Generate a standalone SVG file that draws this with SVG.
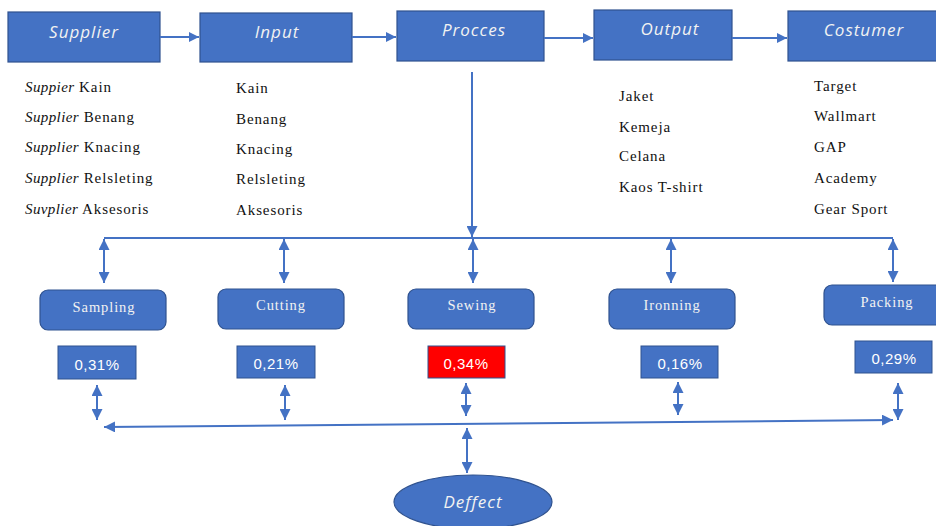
<svg xmlns="http://www.w3.org/2000/svg" width="936" height="526" viewBox="0 0 936 526">
  <defs>
    <marker id="head" viewBox="0 0 10 10" refX="10" refY="5" markerWidth="10" markerHeight="10" markerUnits="userSpaceOnUse" orient="auto-start-reverse">
      <path d="M0,0 L10,5 L0,10 z" fill="#4472C4"/>
    </marker>
    <marker id="head-s" viewBox="0 0 10 10" refX="10" refY="5" markerWidth="11" markerHeight="11" markerUnits="userSpaceOnUse" orient="auto-start-reverse">
      <path d="M0,0 L10,5 L0,10 z" fill="#4472C4"/>
    </marker>
    <style>
      .stage { fill: #4472C4; stroke: #2F528F; stroke-width: 1.2; }
      .stage-t { font-family: "Open Sans", "Liberation Sans", sans-serif; font-style: italic; font-size: 17px; fill: #F2F2F2; text-anchor: middle; letter-spacing: 1px; }
      .step { fill: #4472C4; stroke: #2F528F; stroke-width: 1.2; }
      .step-t { font-family: "Liberation Serif", "DejaVu Serif", serif; font-size: 14.5px; fill: #F2F2F2; text-anchor: middle; letter-spacing: 0.9px; }
      .pct { fill: #4472C4; stroke: #2F528F; stroke-width: 1; }
      .pct-red { fill: #FF0000; stroke: #2F528F; stroke-width: 1; }
      .pct-t { font-family: "Liberation Sans", "DejaVu Sans", sans-serif; font-size: 15px; fill: #FFFFFF; text-anchor: middle; letter-spacing: 0.5px; }
      .list { font-family: "Liberation Serif", "DejaVu Serif", serif; font-size: 15px; fill: #111111; letter-spacing: 0.9px; }
      .it { font-style: italic; letter-spacing: 0.4px; }
      .link { stroke: #4472C4; stroke-width: 2; fill: none; }
    </style>
  </defs>

  <!-- top chain -->
  <g id="supplier"><rect class="stage" x="8" y="12" width="152" height="50"/><text class="stage-t" x="84" y="38">Supplier</text></g>
  <g id="input"><rect class="stage" x="200" y="13" width="152" height="49"/><text class="stage-t" x="277" y="38">Input</text></g>
  <g id="procces"><rect class="stage" x="397" y="11" width="147" height="50"/><text class="stage-t" x="474" y="36">Procces</text></g>
  <g id="output"><rect class="stage" x="594" y="10" width="138" height="50"/><text class="stage-t" x="670" y="35">Output</text></g>
  <g id="costumer"><rect class="stage" x="788" y="11" width="152" height="50"/><text class="stage-t" x="864" y="36">Costumer</text></g>

  <!-- item lists -->
  <g id="supplier-list" class="list">
    <text x="25" y="92"><tspan class="it">Suppier</tspan> Kain</text>
    <text x="25" y="122"><tspan class="it">Supplier</tspan> Benang</text>
    <text x="25" y="152"><tspan class="it">Supplier</tspan> Knacing</text>
    <text x="25" y="183"><tspan class="it">Supplier</tspan> Relsleting</text>
    <text x="25" y="214"><tspan class="it">Suvplier</tspan> Aksesoris</text>
  </g>
  <g id="input-list" class="list">
    <text x="236" y="93">Kain</text>
    <text x="236" y="124">Benang</text>
    <text x="236" y="154">Knacing</text>
    <text x="236" y="184">Relsleting</text>
    <text x="236" y="215">Aksesoris</text>
  </g>
  <g id="output-list" class="list">
    <text x="619" y="101">Jaket</text>
    <text x="619" y="132">Kemeja</text>
    <text x="619" y="161">Celana</text>
    <text x="619" y="192">Kaos T-shirt</text>
  </g>
  <g id="costumer-list" class="list">
    <text x="814" y="91">Target</text>
    <text x="814" y="121">Wallmart</text>
    <text x="814" y="152">GAP</text>
    <text x="814" y="183">Academy</text>
    <text x="814" y="214">Gear Sport</text>
  </g>

  <!-- process steps -->
  <g id="sampling"><rect class="step" x="40" y="290" width="126" height="40" rx="8"/><text class="step-t" x="104" y="312">Sampling</text></g>
  <g id="cutting"><rect class="step" x="218" y="289" width="126" height="40" rx="8"/><text class="step-t" x="281" y="310">Cutting</text></g>
  <g id="sewing"><rect class="step" x="408" y="289" width="126" height="40" rx="8"/><text class="step-t" x="472" y="310">Sewing</text></g>
  <g id="ironning"><rect class="step" x="609" y="289" width="126" height="40" rx="8"/><text class="step-t" x="672" y="310">Ironning</text></g>
  <g id="packing"><rect class="step" x="824" y="285" width="126" height="40" rx="8"/><text class="step-t" x="887" y="307">Packing</text></g>

  <!-- defect rates -->
  <g id="rate-sampling"><rect class="pct" x="58" y="346" width="78" height="33"/><text class="pct-t" x="97" y="370">0,31%</text></g>
  <g id="rate-cutting"><rect class="pct" x="237" y="346" width="78" height="32"/><text class="pct-t" x="276" y="369">0,21%</text></g>
  <g id="rate-sewing"><rect class="pct-red" x="428" y="346" width="77" height="32"/><text class="pct-t" x="466" y="369">0,34%</text></g>
  <g id="rate-ironning"><rect class="pct" x="641" y="346" width="77" height="32"/><text class="pct-t" x="680" y="369">0,16%</text></g>
  <g id="rate-packing"><rect class="pct" x="855" y="341" width="77" height="32"/><text class="pct-t" x="894" y="364">0,29%</text></g>

  <!-- defect result -->
  <g id="deffect">
    <ellipse cx="473" cy="502" rx="79" ry="27" fill="#4472C4" stroke="#2F528F" stroke-width="1.2"/>
    <text class="stage-t" x="473" y="508">Deffect</text>
  </g>

  <!-- connectors -->
  <g id="connectors">
    <line class="link" x1="160" y1="37" x2="199" y2="37" marker-end="url(#head)"/>
    <line class="link" x1="352" y1="37" x2="396" y2="37" marker-end="url(#head)"/>
    <line class="link" x1="544" y1="38" x2="593" y2="38" marker-end="url(#head)"/>
    <line class="link" x1="732" y1="38" x2="787" y2="38" marker-end="url(#head)"/>

    <line class="link" x1="472" y1="72" x2="472" y2="237" marker-end="url(#head-s)"/>
    <line class="link" x1="104" y1="238" x2="893" y2="238"/>

    <line class="link" x1="104" y1="239" x2="104" y2="283" marker-start="url(#head-s)" marker-end="url(#head-s)"/>
    <line class="link" x1="284" y1="239" x2="284" y2="283" marker-start="url(#head-s)" marker-end="url(#head-s)"/>
    <line class="link" x1="473" y1="239" x2="473" y2="283" marker-start="url(#head-s)" marker-end="url(#head-s)"/>
    <line class="link" x1="671" y1="239" x2="671" y2="283" marker-start="url(#head-s)" marker-end="url(#head-s)"/>
    <line class="link" x1="893" y1="239" x2="893" y2="282" marker-start="url(#head-s)" marker-end="url(#head-s)"/>

    <line class="link" x1="97" y1="385" x2="97" y2="420" marker-start="url(#head-s)" marker-end="url(#head-s)"/>
    <line class="link" x1="285" y1="385" x2="285" y2="420" marker-start="url(#head-s)" marker-end="url(#head-s)"/>
    <line class="link" x1="466" y1="383" x2="466" y2="416" marker-start="url(#head-s)" marker-end="url(#head-s)"/>
    <line class="link" x1="678" y1="382" x2="678" y2="415" marker-start="url(#head-s)" marker-end="url(#head-s)"/>
    <line class="link" x1="898" y1="383" x2="898" y2="420" marker-start="url(#head-s)" marker-end="url(#head-s)"/>

    <line class="link" x1="104" y1="427" x2="893" y2="420" marker-start="url(#head-s)" marker-end="url(#head-s)"/>
    <line class="link" x1="467" y1="428" x2="467" y2="473" marker-start="url(#head-s)" marker-end="url(#head-s)"/>
  </g>
</svg>
